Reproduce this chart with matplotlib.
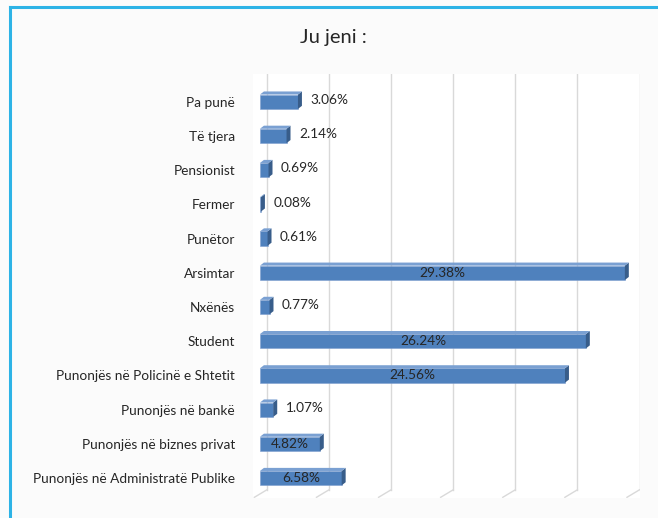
import matplotlib
matplotlib.use("Agg")
import matplotlib.pyplot as plt
from matplotlib.patches import Polygon
from matplotlib.lines import Line2D

# data (bottom to top as drawn)
categories = [
    "Punonjës në Administratë Publike",
    "Punonjës në biznes privat",
    "Punonjës në bankë",
    "Punonjës në Policinë e Shtetit",
    "Student",
    "Nxënës",
    "Arsimtar",
    "Punëtor",
    "Fermer",
    "Pensionist",
    "Të tjera",
    "Pa punë",
]
values = [6.58, 4.82, 1.07, 24.56, 26.24, 0.77, 29.38, 0.61, 0.08, 0.69, 2.14, 3.06]
value_labels = ["6.58%", "4.82%", "1.07%", "24.56%", "26.24%", "0.77%",
                "29.38%", "0.61%", "0.08%", "0.69%", "2.14%", "3.06%"]
x_ticks = [0, 5, 10, 15, 20, 25, 30]

plt.rcParams["font.family"] = ["Lato", "DejaVu Sans"]

front = "#4f81bd"
side = "#385d8a"
topc = "#7aa0d2"
txt = "#262626"

fig = plt.figure(figsize=(6.58, 5.18), dpi=100)
fig.patch.set_facecolor("#fbfbfb")

# blue frame (top and left edges visible)
fig.add_artist(Line2D([9.5 / 658, 9.5 / 658], [0, 1 - 7 / 518], color="#2db3e6", lw=2.2,
                      transform=fig.transFigure))
fig.add_artist(Line2D([9.5 / 658, 1], [1 - 7 / 518, 1 - 7 / 518], color="#2db3e6", lw=2.2,
                      transform=fig.transFigure))

fig.text(333 / 658, 1 - 38 / 518, "Ju jeni :", ha="center", va="center",
         fontsize=14.5, color="#262626")

ax = fig.add_axes([253 / 658, 1 - 498 / 518, 387 / 658, 424 / 518])
ax.set_facecolor("white")
ax.set_xlim(-0.56, 30.6)
ax.set_ylim(-0.58, 11.81)

# 3D-ish gridlines with floor diagonals
gshift = 0.56
for t in x_ticks:
    ax.plot([t + gshift, t + gshift], [-0.34, 11.81], color="#d9d9d9", lw=1.0, zorder=0)
    ax.plot([t + gshift, t - 0.45], [-0.34, -0.56], color="#d9d9d9", lw=1.0, zorder=0)

h = 0.42
dx = 0.32
dy = 0.09
fs = 9.8
for i, (v, lab) in enumerate(zip(values, value_labels)):
    ax.barh(i, v, height=h, color=front, edgecolor="#7f9fd0", lw=0.4, zorder=3)
    ax.add_patch(Polygon([(v, i - h / 2), (v + dx, i - h / 2 + dy), (v + dx, i + h / 2 + dy),
                          (v, i + h / 2)], closed=True, facecolor=side, edgecolor="none", zorder=3))
    ax.add_patch(Polygon([(0, i + h / 2), (dx, i + h / 2 + dy), (v + dx, i + h / 2 + dy),
                          (v, i + h / 2)], closed=True, facecolor=topc, edgecolor="none", zorder=3))
    if v > 4:
        ax.text(v / 2, i, lab, ha="center", va="center", fontsize=fs, color=txt, zorder=4)
    else:
        ax.text(v + 1.0, i + 0.05, lab, ha="left", va="center", fontsize=fs, color=txt, zorder=4)

ax.set_yticks(range(len(categories)))
ax.set_yticklabels(categories, fontsize=fs, color=txt)
ax.tick_params(axis="y", length=0, pad=13)
ax.set_xticks([])
for s in ax.spines.values():
    s.set_visible(False)

plt.savefig("out.png", dpi=100, facecolor=fig.get_facecolor())
